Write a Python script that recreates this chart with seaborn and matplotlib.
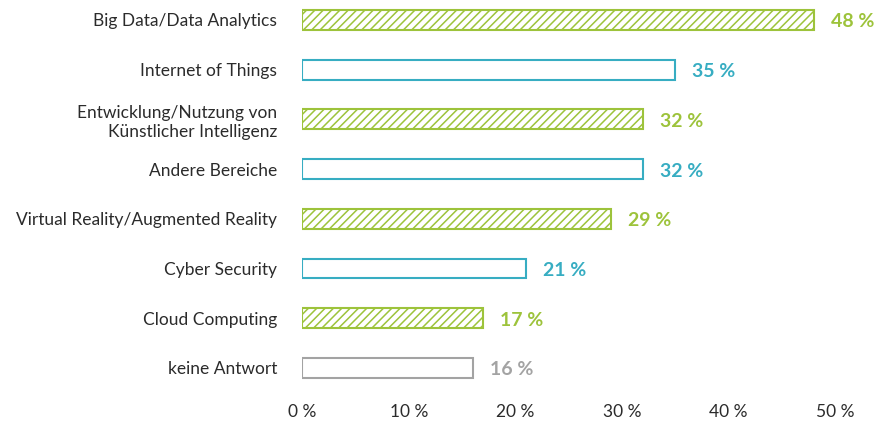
import matplotlib
matplotlib.use("Agg")
import matplotlib.pyplot as plt
import seaborn as sns
import pandas as pd

categories = [
    "Big Data/Data Analytics",
    "Internet of Things",
    "Entwicklung/Nutzung von\nKünstlicher Intelligenz",
    "Andere Bereiche",
    "Virtual Reality/Augmented Reality",
    "Cyber Security",
    "Cloud Computing",
    "keine Antwort",
]
values = [48, 35, 32, 32, 29, 21, 17, 16]
groups = ["green", "teal", "green", "teal", "green", "teal", "green", "gray"]
tick_values = [0, 10, 20, 30, 40, 50]
tick_labels = ["0 %", "10 %", "20 %", "30 %", "40 %", "50 %"]

colors = {"green": "#9dc33b", "teal": "#37adc2", "gray": "#a3a3a3"}

sns.set_theme(style="white")
plt.rcParams["font.family"] = ["Lato", "DejaVu Sans"]
plt.rcParams["hatch.linewidth"] = 1.1

df = pd.DataFrame({"cat": categories, "val": values, "grp": groups})

fig = plt.figure(figsize=(8.81, 4.24), dpi=100)
ax = fig.add_axes([0.343, 0.0735, 0.605, 0.938])

sns.barplot(data=df, x="val", y="cat", color="white", width=0.40, ax=ax,
            orient="h", saturation=1)

for patch, g in zip(ax.patches, groups):
    patch.set_facecolor("white")
    if g == "green":
        patch.set_hatch("////")
    patch.set_edgecolor(colors[g])
    patch.set_linewidth(1.5)

for i, (v, g) in enumerate(zip(values, groups)):
    ax.text(v + 1.6, i + 0.04, f"{v} %", va="center", ha="left", color=colors[g],
            fontsize=14, fontweight="bold")

ax.set_xlim(0, 50)
ax.set_ylim(len(categories) - 0.5, -0.5)
ax.set_xticks(tick_values)
ax.set_xticklabels(tick_labels, fontsize=12.5, color="#2b2b2b")
ax.tick_params(axis="y", labelsize=12.5, labelcolor="#2b2b2b", length=0, pad=18)
ax.tick_params(axis="x", length=0, pad=8)
for lbl in ax.get_yticklabels():
    lbl.set_horizontalalignment("right")
    lbl.set_multialignment("right")
ax.set_xlabel("")
ax.set_ylabel("")
for s in ax.spines.values():
    s.set_visible(False)

fig.savefig("out.png", dpi=100)
